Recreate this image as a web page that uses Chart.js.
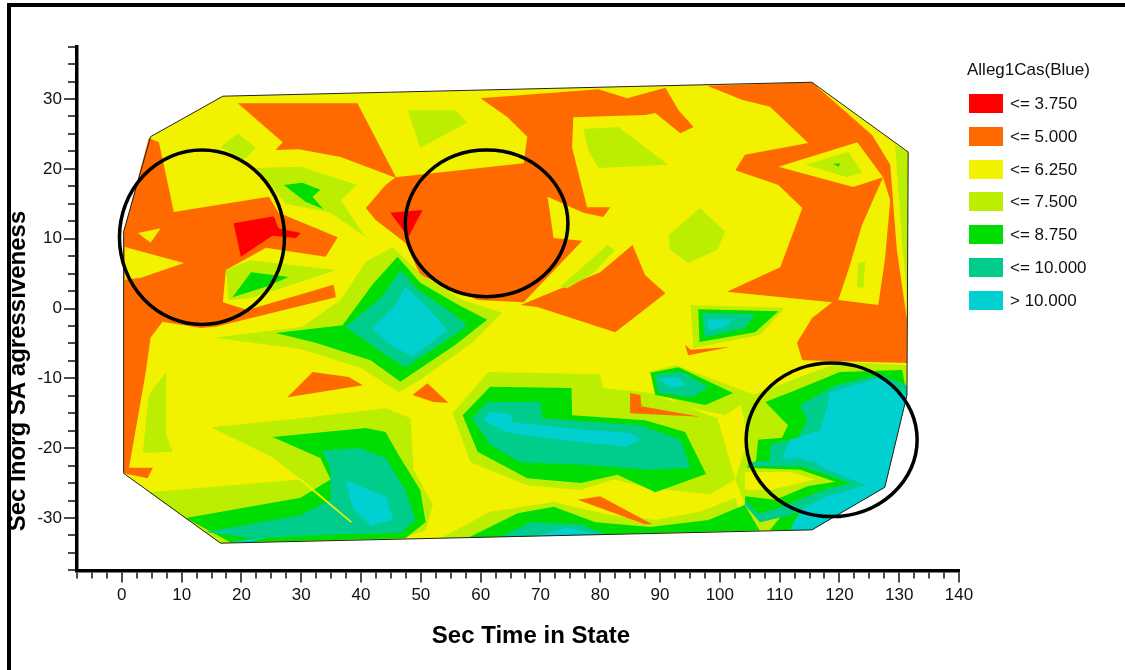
<!DOCTYPE html>
<html>
<head>
<meta charset="utf-8">
<title>Alleg1Cas contour</title>
<script src="https://cdn.jsdelivr.net/npm/chart.js@4.4.1/dist/chart.umd.min.js"></script>
<style>
  body { margin: 0; background: #fff; }
  #wrap { position: relative; width: 1125px; height: 670px; overflow: hidden; font-family: "Liberation Sans", Arial, sans-serif; color: #111; }
  #chart { position: absolute; left: 0; top: 0; }
  .rule { position: absolute; background: #000; }
  .axisTitle { position: absolute; width: 400px; text-align: center; font-weight: bold; font-size: 24px; line-height: 30px; color: #000; white-space: nowrap; }
  #xTitle { left: 331px; top: 620px; }
  #yTitle { left: -183px; top: 356px; transform: rotate(-90deg); }
  #legendTitle { position: absolute; left: 967px; top: 60px; font-size: 17px; line-height: 20px; }
  .swatch { position: absolute; left: 969px; width: 34px; height: 19px; }
  .lvl { position: absolute; left: 1010px; font-size: 17px; line-height: 19px; }
</style>
</head>
<body>
<div id="wrap">
  <canvas id="chart" width="1125" height="670"></canvas>
  <div class="rule" style="left:7px;top:3px;width:1118px;height:4px"></div>
  <div class="rule" style="left:7px;top:3px;width:4px;height:667px"></div>
  <div class="axisTitle" id="xTitle">Sec Time in State</div>
  <div class="axisTitle" id="yTitle">Sec Inorg SA agressiveness</div>
  <div id="legendTitle">Alleg1Cas(Blue)</div>
</div>
<script>
// contour levels (legend)
const levelLabels = ['<= 3.750', '<= 5.000', '<= 6.250', '<= 7.500', '<= 8.750', '<= 10.000', '> 10.000'];
const levelColors = ['#ff0000', '#ff6a00', '#f2f200', '#bbee00', '#00dd00', '#00cc8c', '#00d0d0'];

// axis ranges
const xRange = [-7.5, 140];
const yRange = [-37.5, 37.5];
const tickStep = 2.5;

// contour regions, [time, aggressiveness] vertices
const hull = [[0.3,-23.6],[0.3,11.0],[4.8,24.6],[16.9,30.4],[115.4,32.4],[131.5,22.4],[131.3,-12.4],[127.6,-25.6],[115.4,-31.7],[16.5,-33.6]];

const orangeWest = [[4.5,24.4],[6.2,23.8],[8.7,13.8],[24.6,16.0],[26.2,13.7],[36.1,10.2],[34.1,7.4],[24.1,8.7],[17.4,5.5],[16.9,0.9],[21.0,-0.2],[35.4,3.4],[35.8,1.6],[15.7,-2.6],[13.2,-2.8],[6.8,-1.9],[4.8,-4.2],[4.0,-9.1],[1.2,-22.8],[5.2,-22.8],[4.3,-24.3],[0.3,-23.6],[0.3,11.0]];
const yellowNotchA = [[0.5,8.8],[10.4,6.5],[3.2,4.4],[0.5,4.1]];
const yellowNotchB = [[2.7,10.8],[6.5,11.5],[4.8,9.4]];
const redWest = [[18.7,12.2],[25.4,13.2],[26.2,11.5],[29.9,10.8],[29.1,10.1],[25.2,10.4],[19.9,7.4]];
const orangeNorthWest = [[19.4,29.4],[39.4,29.4],[45.9,18.7],[36.6,21.7],[29.6,22.8],[25.7,22.7],[26.9,23.8]];
const orangeCentre = [[40.8,14.4],[44.1,17.7],[45.8,18.8],[67.2,20.8],[67.8,24.6],[64.5,27.4],[60.0,30.1],[79.7,31.4],[84.5,30.1],[90.9,31.6],[93.1,28.4],[95.6,26.0],[93.4,25.1],[89.2,28.0],[87.5,27.7],[75.5,27.4],[75.3,23.0],[77.8,14.5],[81.7,14.5],[80.5,13.1],[77.2,13.7],[71.2,16.0],[72.2,10.1],[77.0,9.7],[67.2,0.9],[59.5,1.2],[49.9,4.8],[47.4,9.4],[42.4,12.7]];
const redCentre = [[44.9,13.7],[50.3,14.1],[47.9,10.2]];
const orangeEast = [[97.9,31.9],[115.4,32.4],[125.5,24.8],[128.5,20.6],[129.6,8.4],[131.3,-1.6],[131.3,-7.8],[113.8,-7.4],[112.9,-4.9],[115.4,-1.4],[118.8,0.9],[101.2,2.4],[110.1,5.9],[113.8,14.4],[109.8,17.7],[102.6,19.8],[104.2,22.0],[114.8,23.7],[108.4,28.9],[103.7,29.9]];
const yellowEastTri = [[109.8,20.3],[123.0,23.8],[127.3,18.8],[122.3,17.4]];
const yellowEastStrip = [[127.3,18.8],[128.5,15.5],[127.6,6.9],[126.5,0.5],[119.8,1.2],[121.5,5.5],[123.8,12.0]];
const ygEastTri = [[114.3,20.6],[121.5,22.4],[123.8,19.5],[121.3,18.8]];
const greenEastDot = [[119.0,20.7],[120.1,20.8],[119.9,20.3]];
const ygEastSliver = [[123.1,6.5],[124.3,6.7],[124.0,2.9],[123.0,3.1]];
const ygEastEdge = [[129.3,23.5],[131.5,22.4],[131.4,1.2],[130.6,8.4]];
const orangeSouthOfRing = [[66.7,0.5],[80.0,5.2],[85.4,9.1],[87.5,4.8],[90.9,2.2],[88.4,0.5],[82.5,-3.4],[69.5,0.2]];

const ygNorthA = [[47.8,28.4],[55.8,28.4],[57.8,26.6],[49.9,23.0]];
const ygNorthB = [[77.2,25.7],[83.0,26.0],[91.4,20.6],[79.7,20.1],[78.0,22.7]];
const ygRingEdge = [[73.3,3.1],[81.2,9.1],[82.5,8.4],[78.9,5.1],[74.5,2.9]];
const ygHex = [[96.7,14.4],[100.9,11.0],[99.6,8.4],[94.7,6.5],[91.7,8.4],[91.4,10.5]];
const ygWestArrow = [[22.4,20.1],[29.9,20.3],[39.4,17.7],[36.6,15.5],[40.8,10.2],[34.9,13.7],[27.4,15.0],[24.9,17.7]];
const greenWestArrow = [[27.1,17.7],[30.2,18.0],[33.2,17.0],[31.9,16.0],[33.7,14.2],[30.7,15.3]];
const ygWestSmall = [[16.5,23.1],[19.4,25.1],[22.4,23.0],[20.4,21.3]];
const ygWestLow = [[17.4,5.5],[21.6,6.9],[35.8,5.5],[29.9,3.8],[21.6,1.5],[17.9,1.2]];
const greenWestLow = [[18.5,1.6],[21.6,5.2],[27.9,4.5],[24.1,3.1]];

const ygDiamond = [[15.4,-4.2],[30.2,-2.6],[36.6,1.2],[40.8,6.7],[45.3,8.8],[50.3,4.7],[57.0,1.2],[63.6,-0.6],[58.6,-4.9],[49.9,-10.2],[46.3,-12.0],[39.9,-8.5],[29.9,-5.8]];
const greenDiamond = [[25.7,-3.5],[36.9,-2.4],[41.9,3.4],[46.1,7.4],[49.9,3.7],[56.3,0.5],[61.1,-1.6],[55.8,-5.2],[48.3,-9.5],[46.6,-10.5],[41.6,-7.4],[32.4,-4.9]];
const tealDiamond = [[37.4,-2.6],[43.3,1.5],[46.6,5.5],[49.6,2.6],[55.0,-0.5],[57.8,-2.4],[53.3,-5.2],[47.4,-8.4],[43.3,-6.2]];
const cyanDiamond = [[41.9,-2.9],[45.8,0.5],[47.4,3.1],[49.9,1.2],[54.5,-3.1],[48.6,-6.9],[44.9,-5.2]];

const ygWestStrip = [[7.4,-9.1],[4.5,-12.4],[3.5,-20.7],[8.5,-20.5],[7.4,-18.1]];

const ygSouthWest = [[14.9,-17.0],[29.9,-15.7],[44.1,-14.3],[48.3,-15.7],[48.8,-23.1],[52.0,-28.1],[50.8,-31.7],[46.6,-33.0],[16.5,-33.6],[4.5,-26.3],[29.9,-24.5],[25.2,-21.3]];
const greenSouthWest = [[25.2,-18.4],[40.8,-17.1],[44.1,-17.7],[46.3,-21.0],[49.9,-26.0],[50.8,-30.6],[47.4,-32.9],[18.2,-33.5],[10.7,-30.0],[29.9,-27.1],[34.9,-24.5],[33.2,-21.4]];
const tealSouthWest = [[33.6,-20.3],[39.9,-20.0],[44.1,-21.4],[47.4,-26.0],[49.1,-30.3],[46.6,-32.1],[34.9,-32.4],[21.6,-32.9],[14.0,-32.0],[29.9,-29.6],[34.9,-27.4],[34.9,-23.1]];
const cyanSouthWest = [[37.4,-24.6],[44.1,-26.9],[45.4,-30.2],[41.6,-31.1],[38.6,-28.5]];
const cyanSouthWestEdge = [[17.7,-33.5],[24.4,-32.7],[21.6,-33.4]];
const yellowSliver = [[29.9,-24.3],[38.6,-30.6],[38.2,-30.6],[29.6,-24.5]];

const ygBlob = [[55.3,-15.0],[61.3,-9.1],[80.0,-9.4],[80.4,-11.4],[88.4,-12.1],[99.6,-15.7],[102.6,-24.5],[98.4,-26.6],[88.4,-25.7],[82.2,-24.5],[76.7,-26.0],[67.8,-25.3],[58.3,-22.0]];
const greenBlob = [[57.0,-15.3],[61.6,-11.2],[75.2,-11.4],[75.3,-15.3],[87.5,-16.0],[94.2,-17.7],[97.7,-23.7],[89.2,-26.3],[82.9,-23.8],[76.7,-25.0],[67.8,-24.3],[59.5,-20.5]];
const tealBlob = [[58.6,-15.7],[61.1,-13.4],[70.0,-13.4],[70.3,-15.7],[86.7,-16.7],[93.4,-18.8],[95.1,-22.8],[88.4,-23.1],[77.8,-22.4],[66.7,-22.0],[61.6,-19.5]];
const cyanBlob = [[60.5,-16.0],[61.6,-14.8],[65.0,-15.1],[65.3,-16.3],[77.5,-17.4],[85.0,-17.8],[86.7,-18.8],[84.2,-19.8],[73.3,-18.8],[64.2,-17.7]];

const ygSpotA = [[95.1,0.5],[110.9,0.1],[106.7,-3.8],[95.6,-5.7]];
const greenSpotA = [[96.4,-0.1],[109.8,-0.4],[105.9,-3.4],[96.6,-4.8]];
const tealSpotA = [[97.1,-0.6],[105.9,-0.8],[104.2,-2.8],[97.4,-4.1]];
const cyanSpotA = [[97.9,-1.5],[102.2,-1.5],[100.9,-2.6],[98.1,-3.1]];
const ygSpotB = [[88.0,-9.1],[92.6,-8.1],[105.9,-12.4],[100.9,-15.3],[93.1,-13.8]];
const greenSpotB = [[88.4,-9.2],[93.1,-8.4],[102.2,-12.1],[97.6,-13.8],[89.2,-12.4]];
const tealSpotB = [[89.2,-9.5],[93.7,-9.1],[98.1,-11.2],[95.4,-12.7],[89.7,-12.1]];
const cyanSpotB = [[90.0,-10.0],[92.9,-9.8],[94.2,-11.0],[91.7,-11.4]];

const ygSouth = [[53.3,-32.9],[61.6,-29.1],[72.2,-27.7],[81.7,-29.6],[89.2,-30.3],[96.7,-29.1],[102.6,-27.1],[104.2,-31.9]];
const greenSouth = [[58.0,-32.8],[66.2,-29.3],[72.2,-28.4],[79.2,-30.6],[88.4,-31.3],[98.1,-30.3],[104.2,-28.1],[106.7,-31.8]];
const tealSouth = [[63.3,-32.7],[68.3,-30.6],[76.7,-30.9],[80.9,-32.3]];
const cyanSouth = [[68.8,-32.6],[74.5,-31.4],[79.2,-32.3]];

const orangeBitA = [[48.6,-12.4],[51.1,-10.7],[54.6,-13.5],[52.1,-13.4]];
const orangeBitB = [[85.0,-12.1],[86.7,-12.4],[86.9,-14.0],[96.7,-15.5],[85.0,-15.0]];
const orangeBitC = [[94.2,-5.2],[95.1,-5.9],[101.7,-5.5],[94.7,-6.7]];
const orangeBitD = [[76.2,-27.4],[80.0,-26.9],[88.7,-30.9],[87.5,-30.9]];
const orangeBitE = [[27.7,-12.7],[31.9,-9.1],[37.9,-9.8],[40.3,-11.0]];

const ygRing = [[103.4,-13.1],[113.4,-9.8],[120.1,-7.7],[131.2,-8.1],[131.3,-12.4],[127.6,-25.6],[115.4,-31.7],[106.7,-31.8],[104.2,-28.1],[102.6,-24.5],[104.7,-18.8]];
const greenRing = [[107.6,-13.4],[111.8,-12.0],[120.1,-9.1],[130.5,-8.8],[131.3,-12.4],[127.6,-25.6],[115.4,-31.7],[108.4,-31.7],[111.8,-28.1],[109.3,-26.0],[105.9,-23.1],[106.4,-18.8],[110.4,-18.5],[111.4,-16.7]];
const tealRing = [[113.4,-13.8],[119.3,-11.0],[126.8,-9.5],[131.3,-11.0],[131.3,-12.4],[127.6,-25.6],[115.4,-31.7],[111.8,-31.7],[115.1,-28.9],[113.4,-26.7],[108.4,-23.8],[108.4,-19.5],[113.1,-18.5],[114.6,-16.0]];
const cyanRing = [[118.0,-13.8],[118.4,-12.0],[126.5,-10.0],[131.3,-12.4],[127.6,-25.6],[115.4,-31.7],[111.8,-31.6],[114.0,-28.1],[116.4,-22.0],[110.4,-21.4],[111.8,-18.8],[116.8,-17.4]];
// lower arm reaching into the ring from the left
const tealArm = [[104.7,-22.0],[113.4,-21.4],[124.3,-25.3],[117.6,-27.0],[111.8,-29.6],[106.7,-30.6],[104.2,-28.1]];
const greenArm = [[104.7,-22.6],[113.8,-22.6],[121.8,-25.0],[117.3,-26.0],[110.4,-28.4],[106.4,-29.4],[104.2,-27.4]];
const ygArm = [[104.2,-22.8],[113.4,-23.1],[119.3,-24.8],[114.8,-25.4],[109.3,-27.4],[104.2,-26.9]];
const yellowArm = [[104.2,-23.4],[111.8,-23.4],[115.9,-24.5],[108.4,-26.0],[104.2,-26.0]];

// hand-drawn highlight rings: centre x, centre y, radius x, radius y (data units)
const rings = [[13.4, 10.2, 13.8, 12.5], [61.0, 12.2, 13.6, 10.5], [118.7, -18.8, 14.3, 11.0]];

// painter's order, bottom first: [region, level index]
const layers = [
  [hull, 2],
  [orangeWest, 1], [yellowNotchA, 2], [yellowNotchB, 2], [redWest, 0],
  [orangeNorthWest, 1], [orangeCentre, 1], [redCentre, 0],
  [orangeEast, 1], [yellowEastTri, 2], [yellowEastStrip, 2], [ygEastTri, 3], [greenEastDot, 4], [ygEastSliver, 3], [ygEastEdge, 3],
  [orangeSouthOfRing, 1],
  [ygNorthA, 3], [ygNorthB, 3], [ygRingEdge, 3], [ygHex, 3], [ygWestArrow, 3], [greenWestArrow, 4], [ygWestSmall, 3], [ygWestLow, 3], [greenWestLow, 4],
  [ygDiamond, 3], [greenDiamond, 4], [tealDiamond, 5], [cyanDiamond, 6],
  [ygWestStrip, 3],
  [ygSouthWest, 3], [greenSouthWest, 4], [tealSouthWest, 5], [cyanSouthWest, 6], [cyanSouthWestEdge, 6], [yellowSliver, 2],
  [ygBlob, 3], [greenBlob, 4], [tealBlob, 5], [cyanBlob, 6],
  [ygSpotA, 3], [greenSpotA, 4], [tealSpotA, 5], [cyanSpotA, 6],
  [ygSpotB, 3], [greenSpotB, 4], [tealSpotB, 5], [cyanSpotB, 6],
  [ygSouth, 3], [greenSouth, 4], [tealSouth, 5], [cyanSouth, 6],
  [orangeBitA, 1], [orangeBitB, 1], [orangeBitC, 1], [orangeBitD, 1], [orangeBitE, 1],
  [ygRing, 3], [greenRing, 4], [tealRing, 5], [cyanRing, 6],
  [tealArm, 5], [greenArm, 4], [ygArm, 3], [yellowArm, 2]
];

const font = "'Liberation Sans', Arial, sans-serif";
const toPts = arr => arr.map(([x, y]) => ({ x, y }));

const datasets = layers.map(([poly, lvl], i) => ({
  data: toPts(poly),
  backgroundColor: levelColors[lvl],
  borderColor: levelColors[lvl],
  borderWidth: 0,
  fill: 'shape',
  pointRadius: 0,
  tension: 0,
  order: layers.length + 1 - i
}));
// thin outline of the gridded area on top
datasets.push({
  data: toPts(hull.concat([hull[0]])),
  borderColor: '#222',
  borderWidth: 1,
  fill: false,
  pointRadius: 0,
  tension: 0,
  order: 0
});

const ringPlugin = {
  id: 'rings',
  afterDatasetsDraw(chart) {
    const { ctx, scales: { x, y } } = chart;
    ctx.save();
    ctx.strokeStyle = '#000';
    ctx.lineWidth = 3.5;
    rings.forEach(([cx, cy, rx, ry]) => {
      const px = x.getPixelForValue(cx);
      const py = y.getPixelForValue(cy);
      const prx = Math.abs(x.getPixelForValue(cx + rx) - px);
      const pry = Math.abs(y.getPixelForValue(cy + ry) - py);
      ctx.beginPath();
      ctx.ellipse(px, py, prx, pry, 0, 0, Math.PI * 2);
      ctx.stroke();
    });
    ctx.restore();
  }
};

// major / minor tick marks outside the axes
const tickPlugin = {
  id: 'tickMarks',
  afterDraw(chart) {
    const { ctx, chartArea, scales: { x, y } } = chart;
    ctx.save();
    ctx.strokeStyle = '#111';
    ctx.lineWidth = 1.5;
    ctx.beginPath();
    x.ticks.forEach(t => {
      const px = Math.round(x.getPixelForValue(t.value));
      const len = t.value % 10 === 0 ? 10 : 6;
      ctx.moveTo(px, chartArea.bottom + 2);
      ctx.lineTo(px, chartArea.bottom + 2 + len);
    });
    y.ticks.forEach(t => {
      const py = Math.round(y.getPixelForValue(t.value));
      const len = t.value % 10 === 0 ? 12 : 8;
      ctx.moveTo(chartArea.left - 1, py);
      ctx.lineTo(chartArea.left - 1 - len, py);
    });
    ctx.stroke();
    ctx.restore();
  }
};

const tickLabel = v => (v % 10 === 0 ? String(v) : '');

new Chart(document.getElementById('chart'), {
  type: 'line',
  data: { datasets },
  options: {
    responsive: false,
    animation: false,
    events: [],
    devicePixelRatio: 1,
    layout: { padding: { left: 0, top: 46.6, right: 166, bottom: 0 } },
    plugins: { legend: { display: false }, tooltip: { enabled: false } },
    scales: {
      x: {
        type: 'linear',
        position: 'bottom',
        min: xRange[0],
        max: xRange[1],
        grid: { display: false, drawTicks: false },
        border: { display: true, color: '#000', width: 3.5 },
        ticks: { stepSize: tickStep, maxTicksLimit: 200, autoSkip: false, maxRotation: 0, padding: 15, color: '#111', font: { family: font, size: 17 }, callback: tickLabel },
        afterFit: s => { s.height = 99.6; }
      },
      y: {
        type: 'linear',
        position: 'left',
        min: yRange[0],
        max: yRange[1],
        grid: { display: false, drawTicks: false },
        border: { display: true, color: '#000', width: 3.5 },
        ticks: { stepSize: tickStep, maxTicksLimit: 200, autoSkip: false, padding: 15, color: '#111', font: { family: font, size: 17 }, callback: tickLabel },
        afterFit: s => { s.width = 77; }
      }
    }
  },
  plugins: [ringPlugin, tickPlugin]
});

// legend boxes
const wrap = document.getElementById('wrap');
levelLabels.forEach((label, i) => {
  const top = 94 + i * 32.8;
  const sw = document.createElement('div');
  sw.className = 'swatch';
  sw.style.top = top + 'px';
  sw.style.background = levelColors[i];
  wrap.appendChild(sw);
  const tx = document.createElement('div');
  tx.className = 'lvl';
  tx.style.top = top + 'px';
  tx.textContent = label;
  wrap.appendChild(tx);
});
</script>
</body>
</html>
